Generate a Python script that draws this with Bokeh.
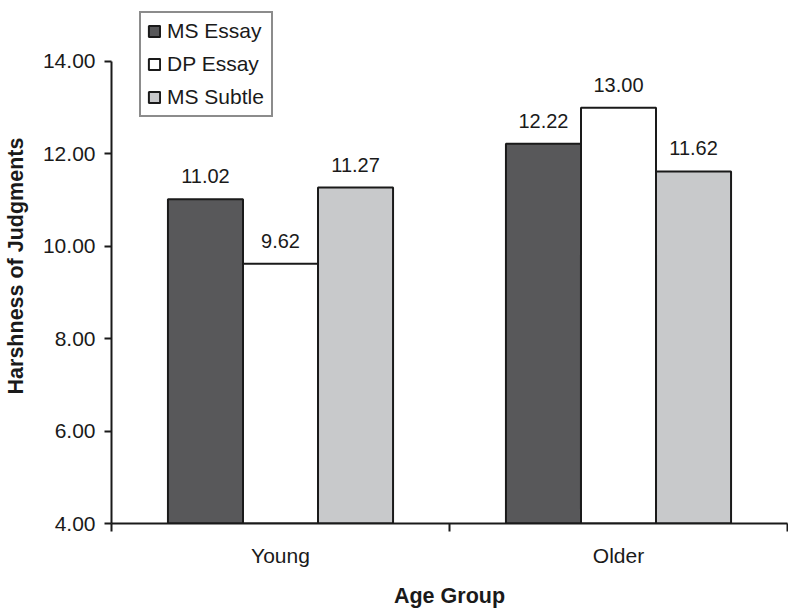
from bokeh.plotting import figure
from bokeh.models import (ColumnDataSource, Range1d, FixedTicker, NumeralTickFormatter,
                          Legend, LegendItem, LabelSet)
from bokeh.core.properties import value
from bokeh.embed import file_html
from bokeh.resources import INLINE

# ---- data ----
groups = ["Young", "Older"]
series = ["MS Essay", "DP Essay", "MS Subtle"]
ms_essay = [11.02, 12.22]
dp_essay = [9.62, 13.00]
ms_subtle = [11.27, 11.62]
colors = ["#58585a", "#ffffff", "#c8c9cb"]
y_ticks = [4, 6, 8, 10, 12, 14]

FONT = "Liberation Sans"
Y_MIN, Y_AXIS_MAX, Y_VIEW_MAX = 4, 14, 15.146
BAR_W = 0.222
offsets = [-BAR_W, 0.0, BAR_W]

p = figure(frame_width=676, frame_height=515, output_backend="svg", toolbar_location=None,
           x_range=Range1d(0, len(groups)), y_range=Range1d(Y_MIN, Y_VIEW_MAX),
           min_border_left=109, min_border_right=1, min_border_top=8, min_border_bottom=10)
p.outline_line_color = None
p.xgrid.visible = False
p.ygrid.visible = False
p.background_fill_color = "white"

centers = [i + 0.5 for i in range(len(groups))]
items = []
for name, vals, col, off in zip(series, [ms_essay, dp_essay, ms_subtle], colors, offsets):
    src = ColumnDataSource(dict(x=[c + off for c in centers], top=vals,
                                lab=["%.2f" % v for v in vals]))
    r = p.vbar(x="x", top="top", bottom=Y_MIN, width=BAR_W, source=src,
               fill_color=col, line_color="#1a1a1a", line_width=2)
    items.append(LegendItem(label=name, renderers=[r]))
    lbl = LabelSet(x="x", y="top", text="lab", source=src, text_align="center",
                   text_baseline="alphabetic", y_offset=16, text_font=value(FONT),
                   text_font_size="20px", text_color="#1a1a1a")
    p.add_layout(lbl)

# x axis
xt = FixedTicker(ticks=centers, minor_ticks=list(range(len(groups) + 1)))
p.xaxis.ticker = xt
p.xaxis.major_label_overrides = {c: g for c, g in zip(centers, groups)}
p.xaxis.major_tick_out = 0
p.xaxis.major_tick_in = 0
p.xaxis.minor_tick_out = 8
p.xaxis.minor_tick_in = 0
p.xaxis.major_label_standoff = 12
p.xaxis.axis_label = "Age Group"
p.xaxis.axis_label_standoff = 14
p.xaxis.major_label_text_line_height = 1.0
p.xaxis.axis_label_text_line_height = 1.0

# y axis
p.yaxis.ticker = FixedTicker(ticks=y_ticks, minor_ticks=[])
p.yaxis.bounds = (Y_MIN, Y_AXIS_MAX)
p.yaxis.formatter = NumeralTickFormatter(format="0.00")
p.yaxis.major_tick_out = 7
p.yaxis.major_tick_in = 0
p.yaxis.major_label_standoff = 9
p.yaxis.axis_label = "Harshness of Judgments"
p.yaxis.axis_label_standoff = 12

for ax in (p.xaxis, p.yaxis):
    ax.axis_line_width = 2
    ax.axis_line_color = "#1a1a1a"
    ax.major_tick_line_width = 2
    ax.major_tick_line_color = "#1a1a1a"
    ax.minor_tick_line_width = 2
    ax.minor_tick_line_color = "#1a1a1a"
    ax.major_label_text_font = FONT
    ax.major_label_text_font_size = "21px"
    ax.major_label_text_color = "#1a1a1a"
    ax.axis_label_text_font = FONT
    ax.axis_label_text_font_size = "21.5px"
    ax.axis_label_text_font_style = "bold"
    ax.axis_label_text_color = "#1a1a1a"

legend = Legend(items=items, location=(28, 406), orientation="vertical",
                glyph_width=14, glyph_height=14, label_standoff=6, label_width=98,
                padding=6, spacing=9, margin=0,
                label_text_font=FONT, label_text_font_size="21px", label_text_color="#1a1a1a",
                border_line_color="#1a1a1a", border_line_width=2,
                background_fill_color="white", background_fill_alpha=1.0)
p.add_layout(legend, "center")

open("out.html", "w").write(file_html(p, INLINE))
